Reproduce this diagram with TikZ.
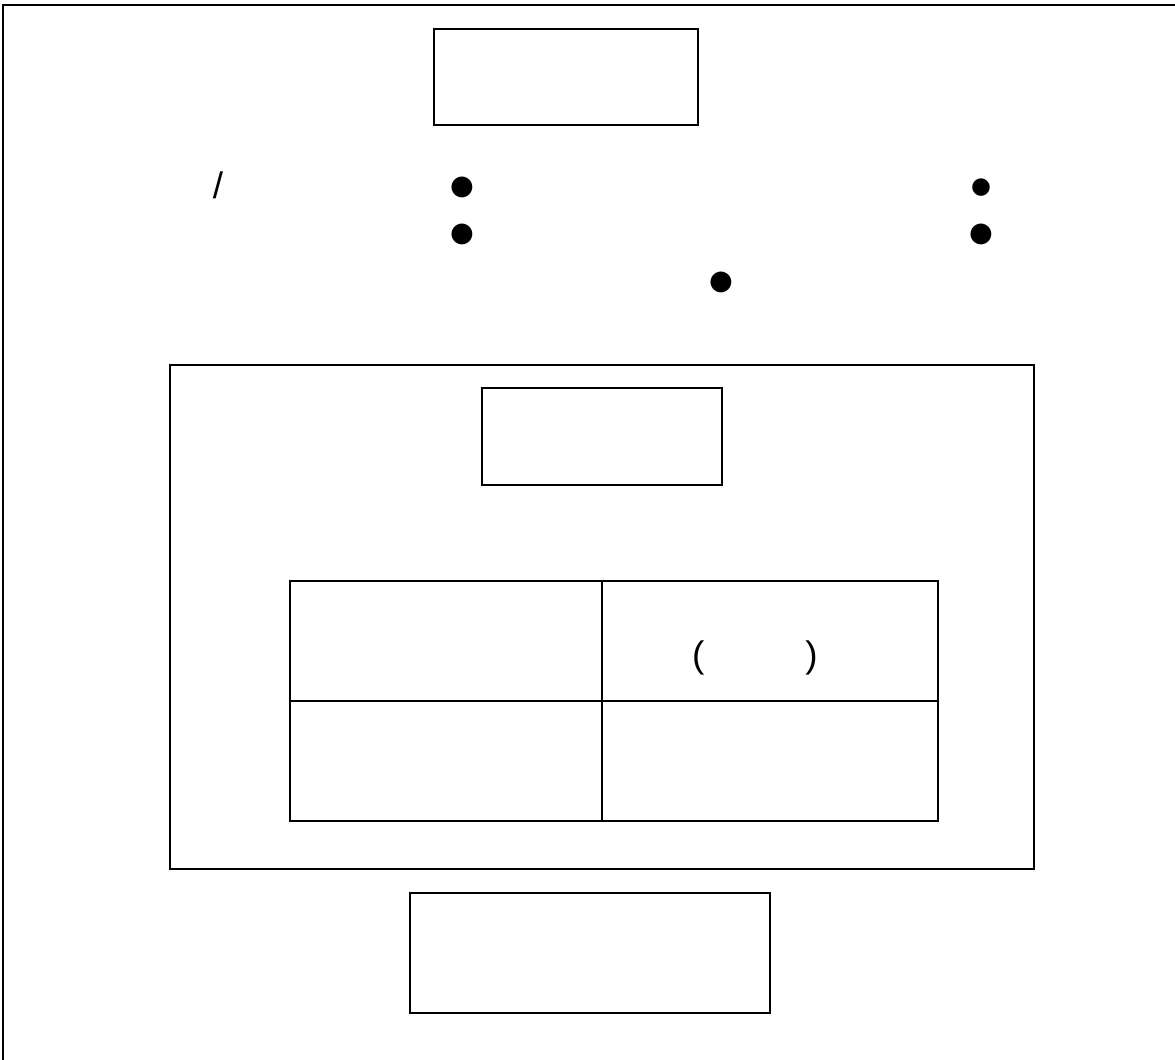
\documentclass[tikz,border=0pt]{standalone}
\usepackage{fontspec}
\setmainfont{Liberation Sans}
\newfontfamily\dotfont{DejaVu Sans}
\usepackage{tikz}
\usetikzlibrary{positioning}

\begin{document}
\begin{tikzpicture}[
  font=\fontsize{21}{25}\selectfont,
  every node/.style={align=center, inner sep=0pt},
  box/.style={rectangle, draw=black, line width=1.1pt},
  cell/.style={rectangle, draw=black, line width=1.1pt, outer sep=0pt,
    minimum height=2.4cm},
  dotmark/.style={font=\dotfont\fontsize{15.5}{25}\selectfont},
  smalldot/.style={font=\dotfont\fontsize{13}{25}\selectfont}
]
\useasboundingbox (0,0) rectangle (23.5,21.2);
\clip (0,0) rectangle (23.5,21.2);
% outer frame (runs off the page at right and bottom)
\draw[line width=1.1pt] (0.06,-1) -- (0.06,21.1) -- (24,21.1);

% top box
\node[box, minimum width=5.28cm, minimum height=1.92cm] (head) at (11.32,19.66) {};

% line of marks below it
\node (slash) at (4.36,17.5) {/};
\node[dotmark] (dotA) at (9.24,17.46) {●};
\node[dotmark] (dotB) at (9.24,16.52) {●};
\node[smalldot] (dotC) at (19.62,17.44) {●};
\node[dotmark] (dotD) at (19.62,16.52) {●};
\node[dotmark] (dotE) at (14.42,15.56) {●};

% big frame with inner box and table
\node[box, minimum width=17.28cm, minimum height=10.08cm] (frame) at (12.04,8.86) {};
\node[box, minimum width=4.8cm, minimum height=1.94cm] (inner) at (12.04,12.47) {};

\node[cell, minimum width=6.24cm] (tl) at (8.92,8.38) {};
\node[cell, minimum width=6.72cm, right=0pt of tl] (tr) {};
\node[cell, minimum width=6.24cm, below=0pt of tl] (bl) {};
\node[cell, minimum width=6.72cm, right=0pt of bl] (br) {};
\node (paren) at (15.1,8.04) {(\hspace{2.02cm})};

% bottom box
\node[box, minimum width=7.2cm, minimum height=2.4cm] (foot) at (11.8,2.14) {};
\end{tikzpicture}
\end{document}
